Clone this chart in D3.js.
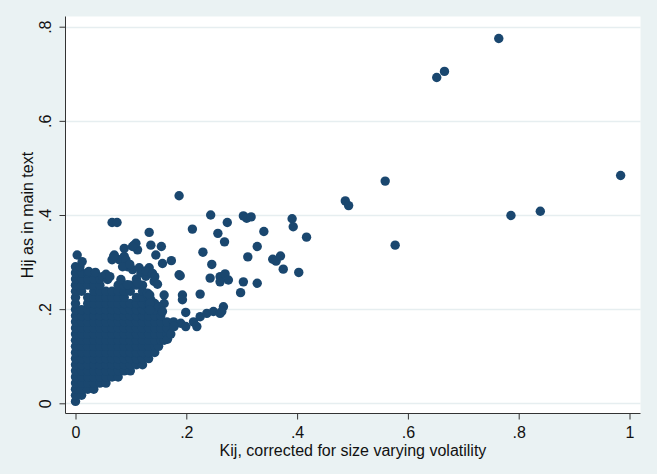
<!DOCTYPE html>
<html>
<head>
<meta charset="utf-8">
<script src="https://cdn.jsdelivr.net/npm/d3@7"></script>
<style>
  html, body { margin: 0; padding: 0; background: #eaf2f3; }
  svg { display: block; font-family: "Liberation Sans", Arial, Helvetica, sans-serif; }
</style>
</head>
<body>
<svg id="chart" width="657" height="474"></svg>
<script>
"use strict";

const xTicks = [0, 0.2, 0.4, 0.6, 0.8, 1];
const yTicks = [0, 0.2, 0.4, 0.6, 0.8];
const xTitle = "Kij, corrected for size varying volatility";
const yTitle = "Hij as in main text";

// dense cluster near the origin: [Hij, Kij values on that level]
const coreRows = [
  [0.004, [0]],
  [0.017, [0, .011]],
  [0.030, [0, .011, .022, .033]],
  [0.043, [0, .011, .022, .033, .044, .055]],
  [0.056, [0, .011, .022, .033, .044, .055, .066, .077]],
  [0.069, [0, .011, .022, .033, .044, .055, .066, .077, .088, .099]],
  [0.082, [0, .011, .022, .033, .044, .055, .066, .077, .088, .099, .110, .121]],
  [0.095, [0, .011, .022, .033, .044, .055, .066, .077, .088, .099, .110, .121, .132]],
  [0.108, [0, .011, .022, .033, .044, .055, .066, .077, .088, .099, .110, .121, .132, .143]],
  [0.121, [0, .011, .022, .033, .044, .055, .066, .077, .088, .099, .110, .121, .132, .143, .150]],
  [0.134, [0, .011, .022, .033, .044, .055, .066, .077, .088, .099, .110, .121, .132, .143, .154, .160]],
  [0.147, [0, .011, .022, .033, .044, .055, .066, .077, .088, .099, .110, .121, .132, .143, .154, .165]],
  [0.160, [0, .011, .022, .033, .044, .055, .066, .077, .088, .099, .110, .121, .132, .143, .154, .165]],
  [0.173, [0, .011, .022, .033, .044, .055, .066, .077, .088, .099, .110, .121, .132, .143, .154, .165]],
  [0.186, [0, .011, .022, .033, .044, .055, .066, .077, .088, .099, .110, .121, .132, .143, .154]],
  [0.199, [0, .011, .022, .033, .044, .055, .066, .077, .088, .099, .110, .121, .132, .143]],
  [0.212, [0, .022, .033, .044, .055, .066, .077, .088, .099, .110, .121, .132, .143]],
  [0.225, [0, .022, .033, .044, .055, .066, .077, .088, .110, .121, .132]],
  [0.238, [0, .011, .033, .044, .055, .066, .077, .088, .099, .121]],
  [0.251, [0, .011, .022, .033, .044, .077, .088, .099, .110, .121]],
  [0.264, [0, .011, .022, .033, .044, .110]],
  [0.277, [0, .011, .022]],
  [0.290, [0, .008]]
];

// loose points round the top and right edge of the cluster [Kij, Hij]
const fringe = [
  [0.003, 0.315], [0.012, 0.301], [0.024, 0.280], [0.036, 0.278], [0.049, 0.269], [0.058, 0.263],
  [0.055, 0.274], [0.062, 0.269], [0.070, 0.315], [0.079, 0.305], [0.088, 0.312], [0.066, 0.305],
  [0.069, 0.312], [0.091, 0.305], [0.066, 0.384], [0.075, 0.384], [0.106, 0.336], [0.112, 0.326],
  [0.109, 0.340], [0.103, 0.333], [0.088, 0.329], [0.133, 0.363], [0.136, 0.336], [0.155, 0.333],
  [0.145, 0.315], [0.094, 0.290], [0.103, 0.284], [0.118, 0.277], [0.127, 0.270], [0.136, 0.277],
  [0.142, 0.259], [0.085, 0.290], [0.115, 0.288], [0.098, 0.295], [0.133, 0.288], [0.127, 0.281],
  [0.082, 0.263], [0.094, 0.252], [0.112, 0.256], [0.130, 0.234], [0.136, 0.220], [0.157, 0.297],
  [0.173, 0.303], [0.187, 0.273], [0.139, 0.276], [0.143, 0.269], [0.148, 0.253], [0.160, 0.230],
  [0.160, 0.212], [0.134, 0.230], [0.134, 0.212], [0.134, 0.198], [0.151, 0.205], [0.157, 0.195],
  [0.193, 0.230], [0.193, 0.220], [0.199, 0.193], [0.225, 0.232],
  [0.177, 0.173], [0.190, 0.170], [0.199, 0.163], [0.213, 0.173], [0.225, 0.184], [0.237, 0.191],
  [0.249, 0.195], [0.261, 0.191], [0.267, 0.205], [0.264, 0.195], [0.178, 0.163], [0.219, 0.163],
  [0.166, 0.136], [0.172, 0.147]
];

// scattered points in the middle range [Kij, Hij]
const scattered = [
  [0.187, 0.441], [0.244, 0.400], [0.303, 0.398], [0.309, 0.393], [0.317, 0.396], [0.274, 0.384],
  [0.211, 0.370], [0.257, 0.361], [0.269, 0.343], [0.230, 0.321], [0.246, 0.295], [0.189, 0.271],
  [0.243, 0.266], [0.261, 0.269], [0.270, 0.275], [0.276, 0.262], [0.261, 0.258], [0.303, 0.258],
  [0.328, 0.255], [0.311, 0.311], [0.328, 0.333], [0.298, 0.235], [0.340, 0.365], [0.356, 0.306],
  [0.362, 0.302], [0.370, 0.313], [0.375, 0.285], [0.403, 0.278], [0.391, 0.392], [0.393, 0.375],
  [0.417, 0.353]
];

// isolated points far out [Kij, Hij]
const outliers = [
  [0.764, 0.775], [0.652, 0.692], [0.666, 0.705], [0.984, 0.484], [0.559, 0.472], [0.487, 0.430],
  [0.493, 0.420], [0.786, 0.399], [0.839, 0.408], [0.577, 0.336]
];

const navy = "#1a476f";
const frame = { left: 65.5, right: 640.5, top: 16.5, bottom: 413.5 };

const svg = d3.select("#chart");

const x = d3.scaleLinear().domain([0, 1]).range([75.5, 629.5]);
const y = d3.scaleLinear().domain([0, 0.8]).range([403.3, 26.7]);

const stataFmt = (d) => (d === 0 || d === 1) ? String(d) : String(d).replace(/^0/, "");

svg.append("rect")
  .attr("width", 657).attr("height", 474)
  .attr("fill", "#eaf2f3");

svg.append("rect")
  .attr("x", frame.left).attr("y", frame.top)
  .attr("width", frame.right - frame.left)
  .attr("height", frame.bottom - frame.top)
  .attr("fill", "#ffffff");

// horizontal grid
svg.append("g")
  .selectAll("line")
  .data(yTicks)
  .join("line")
  .attr("x1", frame.left).attr("x2", frame.right)
  .attr("y1", (d) => Math.round(y(d)) + 0.5)
  .attr("y2", (d) => Math.round(y(d)) + 0.5)
  .attr("stroke", "#e6eef0")
  .attr("stroke-width", 1.5);

// points
let points = [];
coreRows.forEach((row) => row[1].forEach((k) => points.push([k, row[0]])));
points = points.concat(fringe, scattered, outliers);

svg.append("g")
  .selectAll("circle")
  .data(points)
  .join("circle")
  .attr("cx", (d) => x(d[0]))
  .attr("cy", (d) => y(d[1]))
  .attr("r", 4.7)
  .attr("fill", navy);

// x axis
const xAxis = svg.append("g")
  .attr("transform", "translate(0," + frame.bottom + ")")
  .call(d3.axisBottom(x).tickValues(xTicks).tickFormat(stataFmt).tickSize(6).tickSizeOuter(0));
xAxis.select(".domain").remove();
xAxis.selectAll(".tick line").attr("stroke", "#333");
xAxis.selectAll(".tick text")
  .attr("y", 24).attr("dy", 0)
  .attr("font-size", 16).attr("fill", "#111");

// y axis
const yAxis = svg.append("g")
  .attr("transform", "translate(" + frame.left + ",0)")
  .call(d3.axisLeft(y).tickValues(yTicks).tickFormat(stataFmt).tickSize(6).tickSizeOuter(0));
yAxis.select(".domain").remove();
yAxis.selectAll(".tick line").attr("stroke", "#333");
yAxis.selectAll(".tick text")
  .attr("transform", "rotate(-90)")
  .attr("text-anchor", "middle")
  .attr("x", 0).attr("y", -20.5).attr("dy", "0.36em")
  .attr("font-size", 16).attr("fill", "#111");

// axis lines
svg.append("line")
  .attr("x1", frame.left).attr("x2", frame.right)
  .attr("y1", frame.bottom).attr("y2", frame.bottom)
  .attr("stroke", "#333");
svg.append("line")
  .attr("x1", frame.left).attr("x2", frame.left)
  .attr("y1", frame.top).attr("y2", frame.bottom)
  .attr("stroke", "#333");

// titles
svg.append("text")
  .attr("x", (frame.left + frame.right) / 2).attr("y", 456)
  .attr("text-anchor", "middle")
  .attr("font-size", 16).attr("fill", "#111")
  .text(xTitle);

svg.append("text")
  .attr("transform", "translate(27," + ((frame.top + frame.bottom) / 2) + ") rotate(-90)")
  .attr("text-anchor", "middle").attr("dy", "0.36em")
  .attr("font-size", 16).attr("fill", "#111")
  .text(yTitle);
</script>
</body>
</html>
